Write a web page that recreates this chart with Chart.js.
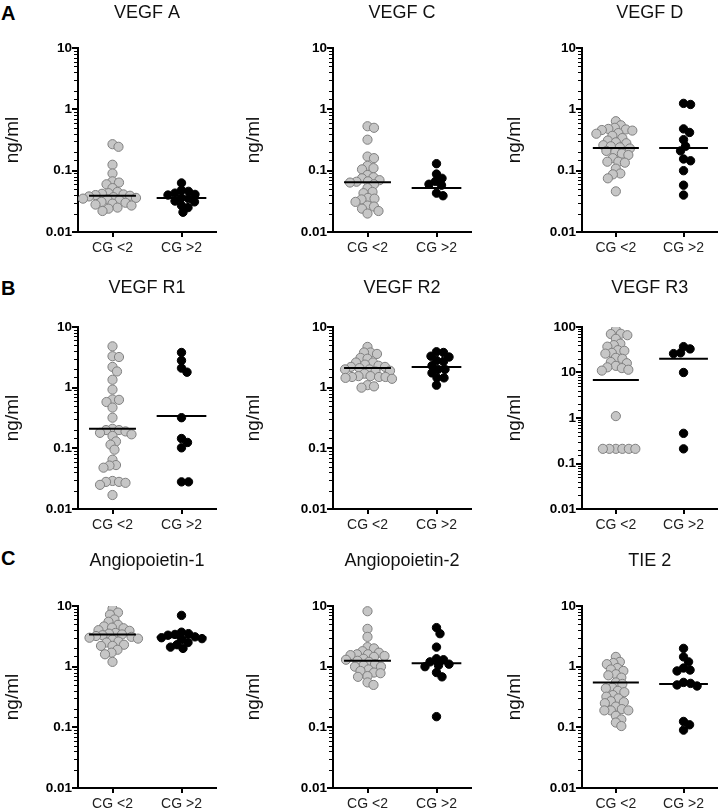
<!DOCTYPE html>
<html>
<head>
<meta charset="utf-8">
<script src="https://cdn.jsdelivr.net/npm/chart.js@4.4.0/dist/chart.umd.min.js"></script>
<style>
  html, body { margin: 0; padding: 0; background: #fff; }
  #wrap { position: relative; width: 723px; height: 812px; overflow: hidden; font-family: "Liberation Sans", Arial, sans-serif; }
  #wrap canvas { position: absolute; }
  .tag { position: absolute; left: 1px; font-weight: bold; font-size: 20px; line-height: 20px; color: #000; }
</style>
</head>
<body>
<div id="wrap">
  <div class="tag" style="top:3px">A</div>
  <div class="tag" style="top:278px">B</div>
  <div class="tag" style="top:548px">C</div>
</div>
<script>
// groups and labels
const groups = ['CG <2', 'CG >2'];
const panelTitles = ['VEGF A', 'VEGF C', 'VEGF D', 'VEGF R1', 'VEGF R2', 'VEGF R3', 'Angiopoietin-1', 'Angiopoietin-2', 'TIE 2'];
const tickLabels = ['0.01', '0.1', '1', '10', '100'];
const yMax = [10, 10, 10, 10, 10, 100, 10, 10, 10];

// values (ng/ml)
const vegfA_lo = [0.27, 0.245, 0.125, 0.09, 0.067, 0.064, 0.06, 0.052, 0.045, 0.043, 0.042, 0.041, 0.04, 0.039, 0.038, 0.037, 0.036, 0.035, 0.034, 0.033, 0.031, 0.03, 0.029, 0.028, 0.027, 0.025, 0.024, 0.022];
const vegfA_hi = [0.063, 0.048, 0.046, 0.043, 0.041, 0.04, 0.036, 0.035, 0.032, 0.031, 0.027, 0.025, 0.021];
const vegfC_lo = [0.53, 0.5, 0.32, 0.17, 0.16, 0.12, 0.11, 0.105, 0.085, 0.078, 0.075, 0.07, 0.067, 0.066, 0.064, 0.06, 0.052, 0.045, 0.043, 0.036, 0.035, 0.034, 0.031, 0.027, 0.026, 0.024, 0.022, 0.02];
const vegfC_hi = [0.13, 0.088, 0.075, 0.067, 0.06, 0.058, 0.043, 0.039];
const vegfD_lo = [0.64, 0.55, 0.5, 0.48, 0.47, 0.46, 0.45, 0.41, 0.4, 0.37, 0.34, 0.31, 0.29, 0.28, 0.26, 0.25, 0.24, 0.23, 0.21, 0.2, 0.19, 0.18, 0.16, 0.14, 0.14, 0.135, 0.108, 0.09, 0.087, 0.075, 0.046];
const vegfD_hi = [1.25, 1.2, 0.48, 0.42, 0.32, 0.25, 0.21, 0.155, 0.145, 0.1, 0.058, 0.04];
const vegfR1_lo = [4.8, 3.3, 3.2, 2.2, 1.85, 1.35, 0.93, 0.64, 0.63, 0.58, 0.47, 0.32, 0.21, 0.2, 0.2, 0.19, 0.18, 0.17, 0.16, 0.13, 0.115, 0.095, 0.065, 0.053, 0.052, 0.048, 0.029, 0.028, 0.028, 0.027, 0.025, 0.017];
const vegfR1_hi = [3.8, 2.8, 2.1, 1.8, 0.32, 0.145, 0.125, 0.102, 0.028, 0.028];
const vegfR2_lo = [4.7, 3.8, 3.8, 3.6, 3.1, 3.0, 2.6, 2.6, 2.4, 2.3, 2.2, 2.2, 2.1, 2.0, 2.0, 1.9, 1.85, 1.7, 1.55, 1.55, 1.5, 1.5, 1.5, 1.45, 1.4, 1.1, 1.05, 1.0];
const vegfR2_hi = [3.9, 3.8, 3.3, 3.2, 2.8, 2.7, 2.3, 2.0, 2.0, 1.75, 1.45, 1.45, 1.1];
const vegfR3_lo = [87, 71, 70, 66, 55, 43, 40, 37, 31, 30, 27, 26, 21, 20, 17, 16, 14, 13, 12.5, 11.5, 11, 1.1, 0.21, 0.21, 0.21, 0.21, 0.21, 0.21];
const vegfR3_hi = [37, 33, 27, 26, 10, 0.46, 0.21];
const ang1_lo = [9.0, 7.8, 7.2, 6.0, 5.5, 4.9, 4.6, 4.4, 4.3, 4.0, 3.9, 3.6, 3.5, 3.4, 3.3, 3.2, 3.1, 3.0, 2.9, 2.8, 2.6, 2.5, 2.3, 2.2, 2.2, 1.9, 1.7, 1.6, 1.2];
const ang1_hi = [7.0, 3.7, 3.5, 3.4, 3.3, 3.1, 3.0, 2.9, 2.8, 2.5, 2.3, 2.1, 2.0];
const ang2_lo = [8.2, 4.2, 3.1, 2.1, 2.0, 1.8, 1.7, 1.6, 1.6, 1.55, 1.5, 1.45, 1.35, 1.3, 1.25, 1.2, 1.1, 1.05, 1.0, 1.0, 0.9, 0.85, 0.8, 0.78, 0.7, 0.68, 0.55, 0.5];
const ang2_hi = [4.4, 3.5, 2.1, 1.35, 1.3, 1.2, 1.1, 1.05, 1.0, 0.8, 0.68, 0.15];
const tie2_lo = [1.45, 1.2, 1.15, 1.1, 0.95, 0.9, 0.85, 0.75, 0.72, 0.66, 0.55, 0.52, 0.45, 0.44, 0.4, 0.38, 0.34, 0.32, 0.3, 0.27, 0.26, 0.25, 0.22, 0.2, 0.19, 0.19, 0.19, 0.155, 0.135, 0.12, 0.105];
const tie2_hi = [2.0, 1.45, 1.2, 0.95, 0.88, 0.85, 0.55, 0.53, 0.5, 0.48, 0.125, 0.11, 0.09];

// median lines as drawn in the figure
const medianLo = [0.039, 0.065, 0.234, 0.21, 2.1, 6.8, 3.4, 1.25, 0.55];
const medianHi = [0.036, 0.052, 0.234, 0.34, 2.2, 20, 3.05, 1.14, 0.52];

const lows = [vegfA_lo, vegfC_lo, vegfD_lo, vegfR1_lo, vegfR2_lo, vegfR3_lo, ang1_lo, ang2_lo, tie2_lo];
const highs = [vegfA_hi, vegfC_hi, vegfD_hi, vegfR1_hi, vegfR2_hi, vegfR3_hi, ang1_hi, ang2_hi, tie2_hi];

// page layout
const colLeft = [0, 240, 482];
const colWidth = [240, 240, 241];
const axisW = [78, 93, 100];
const yTitlePad = [1.6, 2.6, 21.6];
const rowTop = [0, 270, 540];
const rowH = [270, 270, 272];
const plotTop = [48, 57, 66];
const plotBottom = [232, 239, 248];
const titleMid = [13, 18.5, 21];
const plotW = 138;
const xAxisH = 30;
const FONT = '"Liberation Sans", Arial, sans-serif';

function logLabel(v) {
  const e = Math.log10(v);
  if (Math.abs(e - Math.round(e)) > 1e-6) return '';
  return tickLabels[Math.round(e) + 2];
}

// small outside tick marks, longer on the decades
const tickMarks = {
  id: 'tickMarks',
  afterDraw(chart) {
    const { ctx, chartArea: a, scales: { x, y } } = chart;
    ctx.save();
    ctx.strokeStyle = '#000';
    y.ticks.forEach(t => {
      const py = Math.round(y.getPixelForValue(t.value));
      const major = logLabel(t.value) !== '';
      ctx.lineWidth = major ? 2 : 1;
      ctx.beginPath();
      ctx.moveTo(a.left - 1, major ? py : py + 0.5);
      ctx.lineTo(a.left - (major ? 6 : 4), major ? py : py + 0.5);
      ctx.stroke();
    });
    ctx.lineWidth = 2;
    x.ticks.forEach(t => {
      const px = Math.round(x.getPixelForValue(t.value));
      ctx.beginPath();
      ctx.moveTo(px, a.bottom);
      ctx.lineTo(px, a.bottom + 5);
      ctx.stroke();
    });
    ctx.restore();
  }
};

// spread points of one group sideways so they don't sit on top of each other
function swarm(chart, values, cat, d) {
  const xs = chart.scales.x, ys = chart.scales.y;
  const cx = xs.getPixelForValue(cat);
  const placed = [];
  const out = new Array(values.length);
  const order = values.map((v, i) => i).sort((a, b) => values[b] - values[a]);
  for (const i of order) {
    const py = ys.getPixelForValue(values[i]);
    let px = cx;
    for (let k = 0; k < 400; k++) {
      const off = (k % 2 ? 1 : -1) * Math.ceil(k / 2) * 0.5;
      const tx = cx + off;
      if (placed.every(p => (p.x - tx) ** 2 + (p.y - py) ** 2 >= d * d)) { px = tx; break; }
    }
    placed.push({ x: px, y: py });
    out[i] = { x: xs.getValueForPixel(px), y: values[i] };
  }
  return out;
}

const wrap = document.getElementById('wrap');
const charts = [];

panelTitles.forEach((title, i) => {
  const r = Math.floor(i / 3), c = i % 3;
  const cv = document.createElement('canvas');
  cv.width = colWidth[c];
  cv.height = rowH[r];
  cv.style.left = colLeft[c] + 'px';
  cv.style.top = rowTop[r] + 'px';
  wrap.appendChild(cv);

  const tPadTop = titleMid[r] - 10.8;
  const tPadBottom = plotTop[r] - tPadTop - 21.6;

  charts.push(new Chart(cv, {
    type: 'scatter',
    data: {
      datasets: [
        { type: 'line', data: [{ x: 0.66, y: medianLo[i] }, { x: 1.34, y: medianLo[i] }], borderColor: '#000', borderWidth: 2, pointRadius: 0, order: 0 },
        { type: 'line', data: [{ x: 1.64, y: medianHi[i] }, { x: 2.36, y: medianHi[i] }], borderColor: '#000', borderWidth: 2, pointRadius: 0, order: 0 },
        { data: lows[i].map(v => ({ x: 1, y: v })), backgroundColor: '#c6c6c6', borderColor: '#808080', borderWidth: 1, pointRadius: 4.6, order: 1 },
        { data: highs[i].map(v => ({ x: 2, y: v })), backgroundColor: '#000', borderColor: '#000', borderWidth: 1, pointRadius: 4.2, order: 1 }
      ]
    },
    options: {
      responsive: false,
      animation: false,
      devicePixelRatio: 1,
      layout: { padding: { left: 0, top: 0, right: colWidth[c] - axisW[c] - plotW, bottom: rowH[r] - plotBottom[r] - xAxisH } },
      plugins: {
        legend: { display: false },
        tooltip: { enabled: false },
        title: {
          display: true, text: title, fullSize: false, color: '#111',
          font: { family: FONT, size: 18, weight: 'normal' },
          padding: { top: tPadTop, bottom: tPadBottom }
        }
      },
      scales: {
        x: {
          type: 'linear', min: 0.5, max: 2.5,
          grid: { display: false, drawTicks: false },
          border: { color: '#000', width: 2 },
          afterBuildTicks: s => { s.ticks = [{ value: 1 }, { value: 2 }]; },
          afterFit: s => { s.height = xAxisH; },
          ticks: { callback: v => groups[v - 1], padding: 8, color: '#222', maxRotation: 0, autoSkip: false, font: { family: FONT, size: 14 } }
        },
        y: {
          type: 'logarithmic', min: 0.01, max: yMax[i],
          grid: { display: false, drawTicks: false },
          border: { color: '#000', width: 2 },
          afterFit: s => { s.width = axisW[c]; },
          ticks: { autoSkip: false, padding: 6, color: '#000', callback: v => logLabel(v), font: { family: FONT, size: 13.5, weight: 'bold' } },
          title: { display: true, text: 'ng/ml', color: '#111', font: { family: FONT, size: 19 }, padding: { top: yTitlePad[c], bottom: 0 } }
        }
      }
    },
    plugins: [tickMarks]
  }));
});

charts.forEach((chart, i) => {
  chart.data.datasets[2].data = swarm(chart, lows[i], 1, 6.3);
  chart.data.datasets[3].data = swarm(chart, highs[i], 2, 6.8);
  chart.update('none');
});
</script>
</body>
</html>
